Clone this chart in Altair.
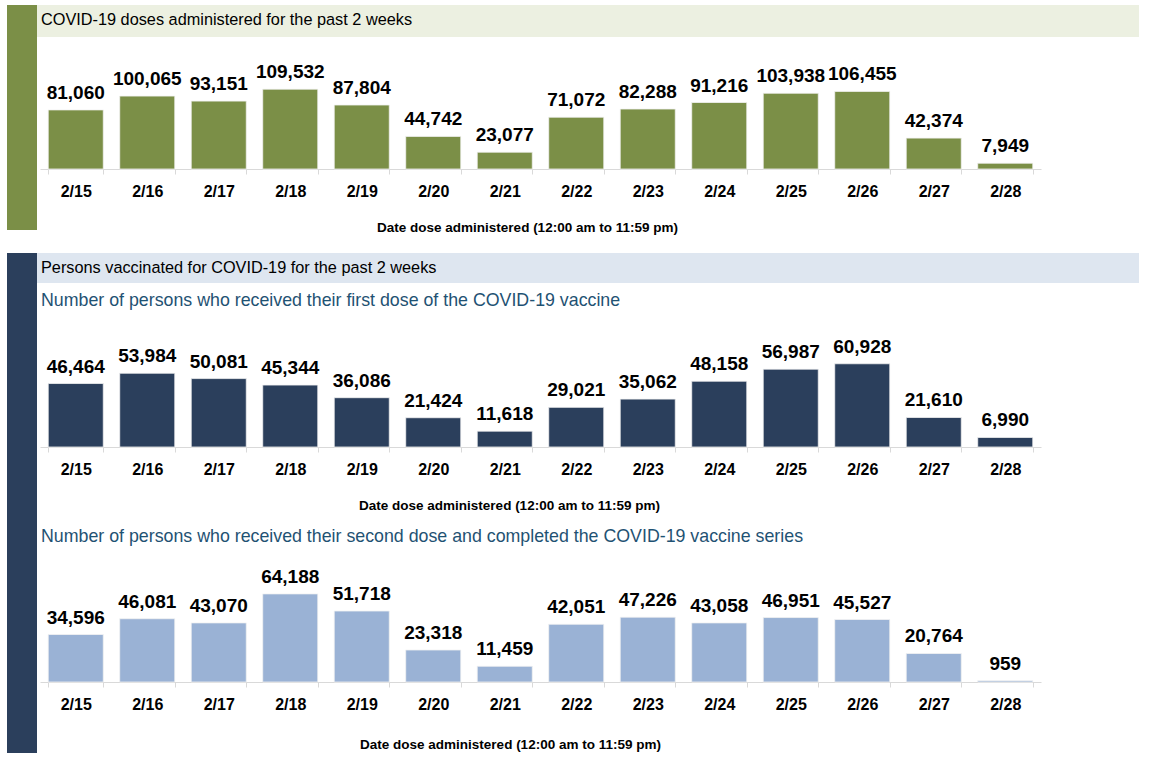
import altair as alt
import pandas as pd

dates = ["2/15", "2/16", "2/17", "2/18", "2/19", "2/20", "2/21",
         "2/22", "2/23", "2/24", "2/25", "2/26", "2/27", "2/28"]
doses = [81060, 100065, 93151, 109532, 87804, 44742, 23077,
         71072, 82288, 91216, 103938, 106455, 42374, 7949]
first_dose = [46464, 53984, 50081, 45344, 36086, 21424, 11618,
              29021, 35062, 48158, 56987, 60928, 21610, 6990]
second_dose = [34596, 46081, 43070, 64188, 51718, 23318, 11459,
               42051, 47226, 43058, 46951, 45527, 20764, 959]

header1 = "COVID-19 doses administered for the past 2 weeks"
header2 = "Persons vaccinated for COVID-19 for the past 2 weeks"
sub1 = "Number of persons who received their first dose of the COVID-19 vaccine"
sub2 = "Number of persons who received their second dose and completed the COVID-19 vaccine series"
axis_title = "Date dose administered (12:00 am to 11:59 pm)"

GREEN = "#7B8F47"
GREEN_BAND = "#ECF0E1"
NAVY = "#2B3F5C"
BLUE_BAND = "#DEE6F0"
LIGHT_BLUE = "#9AB2D5"
SUB_COLOR = "#1F5273"

BOLD = "Liberation Sans"
W = 1001


def one():
    return pd.DataFrame({"k": [0]})


def rect(x, x2, y, y2, color):
    return alt.Chart(one()).mark_rect(color=color).encode(
        x=alt.value(x), x2=alt.value(x2), y=alt.value(y), y2=alt.value(y2))


def label(text, x, y, size, color="black"):
    return alt.Chart(one()).mark_text(
        align="left", baseline="middle", font=BOLD, fontSize=size, color=color
    ).encode(x=alt.value(x), y=alt.value(y), text=alt.value(text))


def bars(values, color, ymax, title_x, title_y):
    df = pd.DataFrame({"date": dates, "value": values})
    base = alt.Chart(df).encode(
        x=alt.X("date:N", sort=dates,
                scale=alt.Scale(paddingInner=0.23, paddingOuter=0.115),
                axis=alt.Axis(title=axis_title, labelAngle=0,
                              domainColor="#D9D9D9", tickColor="#D9D9D9",
                              tickSize=5, tickBand="extent",
                              labelFont=BOLD, labelFontWeight="bold",
                              labelFontSize=16, labelColor="black", labelPadding=9,
                              titleFont=BOLD, titleFontWeight="bold",
                              titleFontSize=13.5, titleColor="black",
                              titleX=title_x, titleY=title_y,
                              titleAlign="center", titleBaseline="alphabetic")),
        y=alt.Y("value:Q", scale=alt.Scale(domain=[0, ymax], nice=False), axis=None),
    )
    b = base.mark_bar(color=color, stroke="#F2F2F2", strokeWidth=0.8)
    t = base.mark_text(baseline="alphabetic", dy=-11, font=BOLD, fontSize=19,
                       fontWeight="bold", color="black").encode(
        text=alt.Text("value:Q", format=","))
    return b, t


b1, t1 = bars(doses, GREEN, 225000, 487, 62)
p1 = alt.layer(
    rect(-33, -3, 0, 225, GREEN),
    rect(-3, 1099, 0, 32, GREEN_BAND),
    label(header1, 1, 15, 16.3),
    b1, t1,
).properties(width=W, height=164)

b2, t2 = bars(first_dose, NAVY, 142000, 469, 62)
p2 = alt.layer(
    rect(-33, -3, 0, 500, NAVY),
    rect(-3, 1099, 0, 30, BLUE_BAND),
    label(header2, 1, 15, 16.3),
    label(sub1, 1, 48, 17.8, SUB_COLOR),
    b2, t2,
).properties(width=W, height=194)

b3, t3 = bars(second_dose, LIGHT_BLUE, 110000, 470, 66)
p3 = alt.layer(
    label(sub2, 1, 6, 17.8, SUB_COLOR),
    b3, t3,
).properties(width=W, height=151)

chart = alt.vconcat(p1, p2, p3, spacing=84, bounds="flush").properties(
    padding={"left": 7, "top": 5, "right": 5, "bottom": 5},
    background="white",
).configure_view(stroke=None)

chart.save("out.html", embed_options={"renderer": "svg", "actions": False})
